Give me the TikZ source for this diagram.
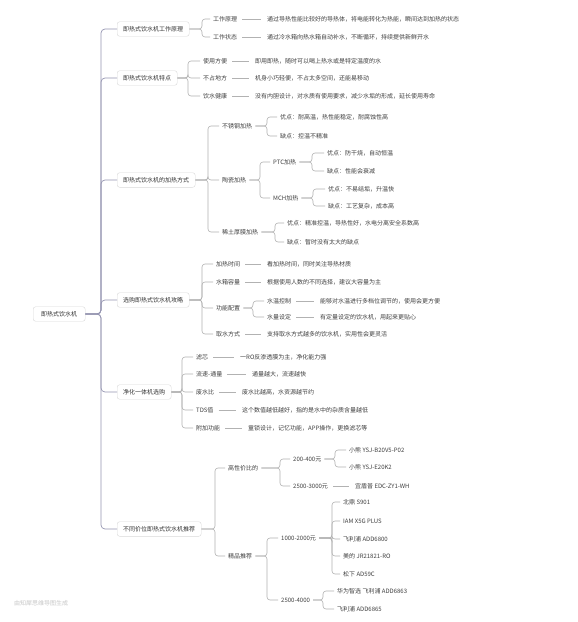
\documentclass[tikz,border=0pt]{standalone}
\usepackage{fontspec}
\setmainfont{Noto Sans CJK SC}
\definecolor{tcol}{RGB}{150,150,178}
\newcommand\mmc[3]{\coordinate (tmpx) at (#3,0);\draw[conn] (#1.east) -- (#1.east -| tmpx) |- (#2.west);}
\newcommand\mml[2]{\draw[conn,shorten <=2pt,shorten >=3pt] (#1.east) -- (#2.west);}
\newcommand\mmt[2]{\coordinate (tmpx) at (101,0);\draw[trunk] (#1.east) -- (#1.east -| tmpx) |- (#2.west);}
\begin{document}
\begin{tikzpicture}[x=1pt,y=-1pt,font=\fontsize{6}{7}\selectfont,
  box/.style={draw=black!15,fill=white,rounded corners=2.5pt,inner xsep=6pt,inner ysep=4.5pt,text=black!80,anchor=west},
  tx/.style={inner xsep=3pt,inner ysep=1.5pt,text=black!75,anchor=west},
  conn/.style={draw=black!30,line width=0.6pt,rounded corners=3pt},
  trunk/.style={draw=tcol,line width=0.7pt,rounded corners=4pt}]
\useasboundingbox[fill=white] (0,0) rectangle (578,622);
% root
\node[box,inner xsep=8pt] (r) at (33,314) {即热式饮水机};
% level 1
\node[box] (b1) at (117,29) {即热式饮水机工作原理};
\node[box] (b2) at (117,78) {即热式饮水机特点};
\node[box] (b3) at (117,180) {即热式饮水机的加热方式};
\node[box] (b4) at (117,300) {选购即热式饮水机攻略};
\node[box] (b5) at (117,392) {净化一体机选购};
\node[box] (b6) at (117,529) {不同价位即热式饮水机推荐};
\mmt{r}{b1}\mmt{r}{b2}\mmt{r}{b3}\mmt{r}{b4}\mmt{r}{b5}\mmt{r}{b6}
% branch 1
\node[tx] (b1a) at (210,19) {工作原理};
\node[tx] (b1b) at (210,37) {工作状态};
\node[tx] (l1a) at (264,19) {通过导热性能比较好的导热体，将电能转化为热能，瞬间达到加热的状态};
\node[tx] (l1b) at (264,37) {通过冷水箱向热水箱自动补水，不断循环，持续提供新鲜开水};
\mmc{b1}{b1a}{202}\mmc{b1}{b1b}{202}
\mml{b1a}{l1a}\mml{b1b}{l1b}
% branch 2
\node[tx] (b2a) at (200,61) {使用方便};
\node[tx] (b2b) at (200,78) {不占地方};
\node[tx] (b2c) at (200,96) {饮水健康};
\node[tx] (l2a) at (252,61) {即用即热，随时可以喝上热水或是特定温度的水};
\node[tx] (l2b) at (252,78) {机身小巧轻便，不占太多空间，还能易移动};
\node[tx] (l2c) at (252,96) {没有内胆设计，对水质有使用要求，减少水垢的形成，延长使用寿命};
\mmc{b2}{b2a}{188}\mmc{b2}{b2b}{188}\mmc{b2}{b2c}{188}
\mml{b2a}{l2a}\mml{b2b}{l2b}\mml{b2c}{l2c}
% branch 3
\node[tx] (b3a) at (219,126) {不锈钢加热};
\node[tx] (b3b) at (219,180) {陶瓷加热};
\node[tx] (b3c) at (219,232) {稀土厚膜加热};
\mmc{b3}{b3a}{208}\mmc{b3}{b3b}{208}\mmc{b3}{b3c}{208}
\node[tx] (l3a1) at (277,117) {优点：耐高温，热性能稳定，耐腐蚀性高};
\node[tx] (l3a2) at (277,136) {缺点：控温不精准};
\mmc{b3a}{l3a1}{267}\mmc{b3a}{l3a2}{267}
\node[tx] (b3b1) at (270,162) {PTC加热};
\node[tx] (b3b2) at (270,198) {MCH加热};
\mmc{b3b}{b3b1}{260}\mmc{b3b}{b3b2}{260}
\node[tx] (l3p1) at (324,153) {优点：防干烧，自动恒温};
\node[tx] (l3p2) at (324,171) {缺点：性能会衰减};
\mmc{b3b1}{l3p1}{312}\mmc{b3b1}{l3p2}{312}
\node[tx] (l3m1) at (325,189) {优点：不易结垢，升温快};
\node[tx] (l3m2) at (325,206) {缺点：工艺复杂，成本高};
\mmc{b3b2}{l3m1}{313}\mmc{b3b2}{l3m2}{313}
\node[tx] (l3c1) at (284,223) {优点：精准控温，导热性好，水电分离安全系数高};
\node[tx] (l3c2) at (284,242) {缺点：暂时没有太大的缺点};
\mmc{b3c}{l3c1}{275}\mmc{b3c}{l3c2}{275}
% branch 4
\node[tx] (b4a) at (213,264) {加热时间};
\node[tx] (b4b) at (213,282) {水箱容量};
\node[tx] (b4c) at (213,308) {功能配置};
\node[tx] (b4d) at (213,334) {取水方式};
\mmc{b4}{b4a}{202}\mmc{b4}{b4b}{202}\mmc{b4}{b4c}{202}\mmc{b4}{b4d}{202}
\node[tx] (l4a) at (264,264) {看加热时间，同时关注导热材质};
\node[tx] (l4b) at (264,282) {根据使用人数的不同选择，建议大容量为主};
\node[tx] (l4d) at (264,334) {支持取水方式越多的饮水机，实用性会更灵活};
\mml{b4a}{l4a}\mml{b4b}{l4b}\mml{b4d}{l4d}
\node[tx] (b4c1) at (264,301) {水温控制};
\node[tx] (b4c2) at (264,317) {水量设定};
\mmc{b4c}{b4c1}{253}\mmc{b4c}{b4c2}{253}
\node[tx] (l4c1) at (317,301) {能够对水温进行多档位调节的，使用会更方便};
\node[tx] (l4c2) at (317,317) {有定量设定的饮水机，用起来更贴心};
\mml{b4c1}{l4c1}\mml{b4c2}{l4c2}
% branch 5
\node[tx] (b5a) at (193,357) {滤芯};
\node[tx] (b5b) at (193,374) {流速-通量};
\node[tx] (b5c) at (193,392) {废水比};
\node[tx] (b5d) at (193,410) {TDS值};
\node[tx] (b5e) at (193,428) {附加功能};
\mmc{b5}{b5a}{182}\mmc{b5}{b5b}{182}\mmc{b5}{b5c}{182}\mmc{b5}{b5d}{182}\mmc{b5}{b5e}{182}
\node[tx] (l5a) at (237,357) {一RO反渗透膜为主，净化能力强};
\node[tx] (l5b) at (249,374) {通量越大，流速越快};
\node[tx] (l5c) at (239,392) {废水比越高，水资源越节约};
\node[tx] (l5d) at (239,410) {这个数值越低越好，指的是水中的杂质含量越低};
\node[tx] (l5e) at (245,428) {童锁设计，记忆功能，APP操作，更换滤芯等};
\mml{b5a}{l5a}\mml{b5b}{l5b}\mml{b5c}{l5c}\mml{b5d}{l5d}\mml{b5e}{l5e}
% branch 6
\node[tx] (b6a) at (225,468) {高性价比的};
\node[tx] (b6b) at (225,556) {精品推荐};
\mmc{b6}{b6a}{215}\mmc{b6}{b6b}{215}
\node[tx] (p1) at (290,459) {200-400元};
\node[tx] (p2) at (290,486) {2500-3000元};
\mmc{b6a}{p1}{280}\mmc{b6a}{p2}{280}
\node[tx] (m1) at (346,450) {小熊 YSJ-B20V5-P02};
\node[tx] (m2) at (346,467) {小熊 YSJ-E20K2};
\mmc{p1}{m1}{335}\mmc{p1}{m2}{335}
\node[tx] (m3) at (352,486) {宜盾普 EDC-ZY1-WH};
\mml{p2}{m3}
\node[tx] (p3) at (278,538) {1000-2000元};
\node[tx] (p4) at (278,600) {2500-4000};
\mmc{b6b}{p3}{267}\mmc{b6b}{p4}{267}
\node[tx] (n1) at (340,502) {北鼎 S901};
\node[tx] (n2) at (340,521) {IAM X5G PLUS};
\node[tx] (n3) at (340,539) {飞利浦 ADD6800};
\node[tx] (n4) at (340,556) {美的 JR21821-RO};
\node[tx] (n5) at (340,574) {松下 AD59C};
\mmc{p3}{n1}{332}\mmc{p3}{n2}{332}\mmc{p3}{n3}{332}\mmc{p3}{n4}{332}\mmc{p3}{n5}{332}
\node[tx] (n6) at (334,591) {华为智选 飞利浦 ADD6863};
\node[tx] (n7) at (334,609) {飞利浦 ADD6865};
\mmc{p4}{n6}{323}\mmc{p4}{n7}{323}
% watermark
\node[tx,text=black!22] (wm) at (11,603) {由知犀思维导图生成};
\end{tikzpicture}
\end{document}
